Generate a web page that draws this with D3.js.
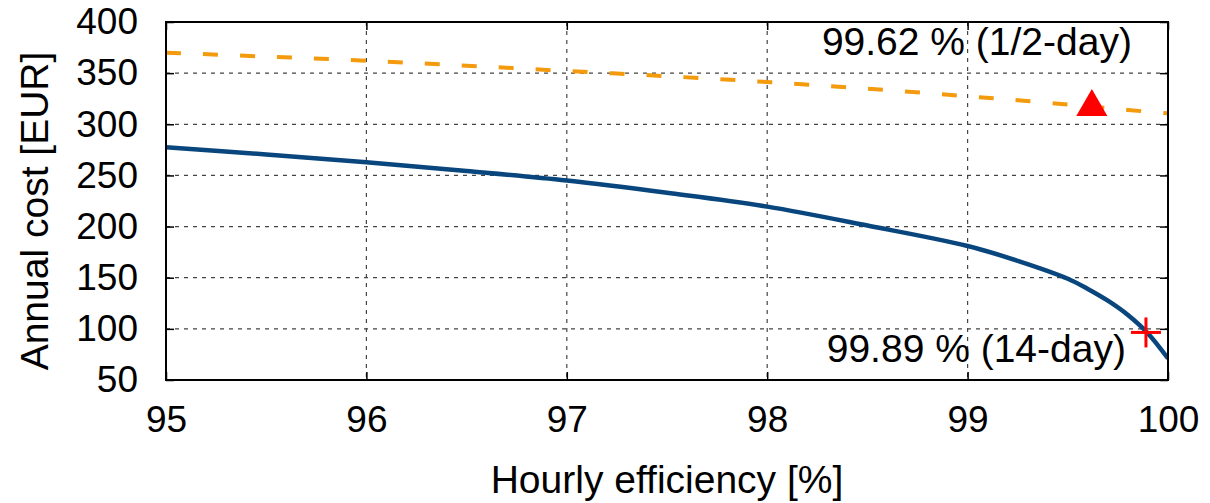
<!DOCTYPE html>
<html>
<head>
<meta charset="utf-8">
<script src="https://cdn.jsdelivr.net/npm/d3@7"></script>
<style>
  body { margin: 0; background: #fff; }
  text { font-family: "Liberation Sans", Arial, sans-serif; fill: #000; }
</style>
</head>
<body>
<div class="chart"></div>
<script>
// efficiency [%] sampled along the curves
let efficiency = [95, 95.5, 96, 96.5, 97, 97.5, 98, 98.5, 99, 99.25, 99.5, 99.6, 99.7, 99.8, 99.9, 100];
// annual cost [EUR], 14-day storage (solid blue)
let cost14day = [277.5, 270.5, 262.8, 254.3, 245, 233, 219.5, 201, 181, 166.5, 149, 139, 127.5, 113.5, 95.5, 71];
// annual cost [EUR], 1/2-day storage (orange dashed)
let costHalfDay = [370, 366.2, 362.2, 357.3, 352.1, 347, 341.3, 334.8, 327.4, 323.5, 319.3, 317.6, 315.8, 314, 312.3, 310.7];

let optima = [
  {eff: 99.62, cost: 317, label: '99.62 % (1/2-day)'},
  {eff: 99.89, cost: 96.5, label: '99.89 % (14-day)'}
];

let xTicks = [95, 96, 97, 98, 99, 100];
let yTicks = [50, 100, 150, 200, 250, 300, 350, 400];

let margin = {top: 22, right: 42, bottom: 123, left: 166};
let fullWidth = 1210;
let fullHeight = 503;
let width = fullWidth - margin.left - margin.right;
let height = fullHeight - margin.top - margin.bottom;

let svg = d3.select('.chart')
  .append('svg')
    .attr('width', fullWidth)
    .attr('height', fullHeight)
  .append('g')
    .attr('transform', `translate(${margin.left}, ${margin.top})`);

let xScale = d3.scaleLinear().domain([95, 100]).range([0, width]);
let yScale = d3.scaleLinear().domain([50, 400]).range([height, 0]);

// grid
svg.append('g')
  .selectAll('line')
  .data(xTicks.slice(1, -1))
  .join('line')
    .attr('x1', d => xScale(d)).attr('x2', d => xScale(d))
    .attr('y1', 0).attr('y2', height)
    .style('stroke', '#444')
    .style('stroke-width', 1.2)
    .style('stroke-dasharray', '4,5');

svg.append('g')
  .selectAll('line')
  .data(yTicks.slice(1, -1))
  .join('line')
    .attr('x1', 0).attr('x2', width)
    .attr('y1', d => yScale(d)).attr('y2', d => yScale(d))
    .style('stroke', '#444')
    .style('stroke-width', 1.2)
    .style('stroke-dasharray', '4,5');

// axes, ticks pointing inward and mirrored
let xAxis = d3.axisBottom(xScale).tickValues(xTicks).tickFormat(d3.format('d'))
  .tickSizeInner(-8).tickSizeOuter(0).tickPadding(26);
let yAxis = d3.axisLeft(yScale).tickValues(yTicks).tickFormat(d3.format('d'))
  .tickSizeInner(-8).tickSizeOuter(0).tickPadding(28);

let gx = svg.append('g')
  .attr('transform', `translate(0, ${height})`)
  .call(xAxis);
let gy = svg.append('g').call(yAxis);

svg.append('g').call(d3.axisTop(xScale).tickValues(xTicks).tickSizeInner(-8).tickSizeOuter(0).tickFormat(''));
svg.append('g').attr('transform', `translate(${width}, 0)`)
  .call(d3.axisRight(yScale).tickValues(yTicks).tickSizeInner(-8).tickSizeOuter(0).tickFormat(''));

svg.selectAll('.domain').remove();
svg.selectAll('.tick line').style('stroke', '#000').style('stroke-width', 1.5);
gx.selectAll('text').style('font-size', '37px').attr('dy', '0.71em');
gy.selectAll('text').style('font-size', '37px');

// lines
svg.append('clipPath').attr('id', 'plotclip')
  .append('rect').attr('width', width).attr('height', height);

let line = d3.line()
  .x(d => xScale(d[0]))
  .y(d => yScale(d[1]))
  .curve(d3.curveCatmullRom.alpha(0.5));

svg.append('path')
  .datum(efficiency.map((e, i) => [e, costHalfDay[i]]))
  .attr('d', line)
  .attr('clip-path', 'url(#plotclip)')
  .style('fill', 'none')
  .style('stroke', '#F39A0D')
  .style('stroke-width', 4)
  .style('stroke-dasharray', '15,22');

svg.append('path')
  .datum(efficiency.map((e, i) => [e, cost14day[i]]))
  .attr('d', line)
  .attr('clip-path', 'url(#plotclip)')
  .style('fill', 'none')
  .style('stroke', '#08467D')
  .style('stroke-width', 4.5);

// border
svg.append('rect')
  .attr('width', width)
  .attr('height', height)
  .style('fill', 'none')
  .style('stroke', '#000')
  .style('stroke-width', 2);

// optimum markers
let tri = d3.symbol().type(d3.symbolTriangle).size(420);
svg.append('path')
  .attr('d', tri())
  .attr('transform', `translate(${xScale(optima[0].eff)}, ${yScale(optima[0].cost)})`)
  .style('fill', '#FF0000');

let p = optima[1];
svg.append('g')
  .attr('transform', `translate(${xScale(p.eff)}, ${yScale(p.cost)})`)
  .selectAll('line')
  .data([[-15, 0, 15, 0], [0, -15, 0, 15]])
  .join('line')
    .attr('x1', d => d[0]).attr('y1', d => d[1])
    .attr('x2', d => d[2]).attr('y2', d => d[3])
    .style('stroke', '#FF0000')
    .style('stroke-width', 3);

svg.append('text')
  .attr('x', xScale(99.82))
  .attr('y', 33)
  .attr('text-anchor', 'end')
  .style('font-size', '39px')
  .text(optima[0].label);

svg.append('text')
  .attr('x', xScale(99.79))
  .attr('y', 340)
  .attr('text-anchor', 'end')
  .style('font-size', '39px')
  .text(optima[1].label);

// axis titles
svg.append('text')
  .attr('x', width / 2)
  .attr('y', height + 113)
  .attr('text-anchor', 'middle')
  .style('font-size', '39px')
  .text('Hourly efficiency [%]');

svg.append('text')
  .attr('transform', `translate(${48 - margin.left}, ${height / 2 + 10}) rotate(-90)`)
  .attr('text-anchor', 'middle')
  .style('font-size', '39px')
  .text('Annual cost [EUR]');
</script>
</body>
</html>
